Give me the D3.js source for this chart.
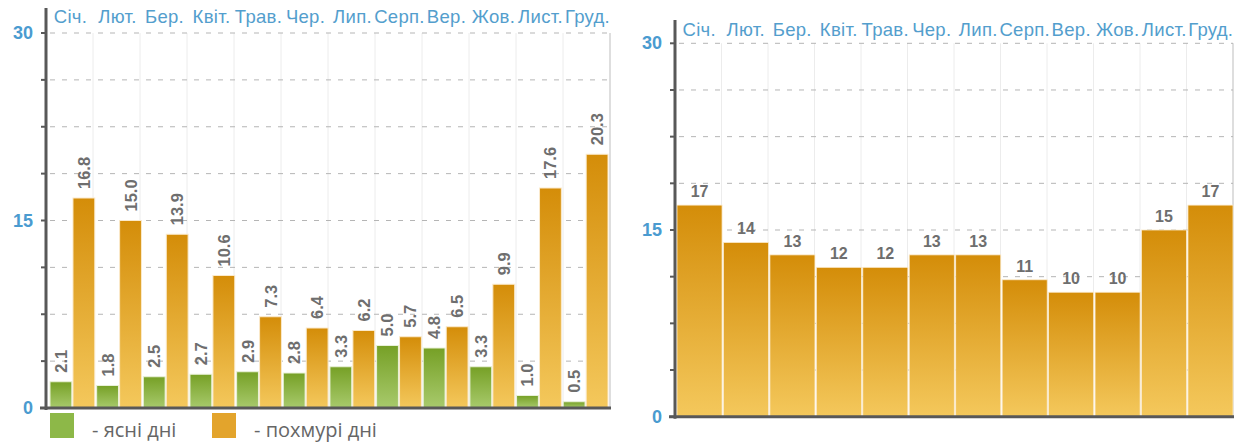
<!DOCTYPE html>
<html>
<head>
<meta charset="utf-8">
<script src="https://cdn.jsdelivr.net/npm/d3@7"></script>
<style>
  html, body { margin: 0; padding: 0; background: #fff; }
  svg { display: block; }
</style>
</head>
<body>
<svg id="chart" width="1247" height="444"></svg>
<script>
// Months (Ukrainian abbreviations)
const months = ["Січ.", "Лют.", "Бер.", "Квіт.", "Трав.", "Чер.", "Лип.", "Серп.", "Вер.", "Жов.", "Лист.", "Груд."];
// Average number of clear and overcast days per month
const clearDays = [2.1, 1.8, 2.5, 2.7, 2.9, 2.8, 3.3, 5.0, 4.8, 3.3, 1.0, 0.5];
const cloudyDays = [16.8, 15.0, 13.9, 10.6, 7.3, 6.4, 6.2, 5.7, 6.5, 9.9, 17.6, 20.3];
// Days with precipitation per month
const rainDays = [17, 14, 13, 12, 12, 13, 13, 11, 10, 10, 15, 17];
// Axis tick values and which of them carry labels
const yTicks = [0, 3.75, 7.5, 11.25, 15, 18.75, 22.5, 26.25, 30];
const yLabels = [0, 15, 30];
const legendItems = ["- ясні дні", "- похмурі дні"];

const svg = d3.select("#chart");
const defs = svg.append("defs");

function vGradient(id, top, bottom) {
  const g = defs.append("linearGradient").attr("id", id)
    .attr("x1", 0).attr("y1", 0).attr("x2", 0).attr("y2", 1);
  g.append("stop").attr("offset", "0%").attr("stop-color", top);
  g.append("stop").attr("offset", "100%").attr("stop-color", bottom);
}
vGradient("gGreen", "#76a026", "#a8ca6c");
vGradient("gOrange", "#d48d09", "#f4c85c");

const blue = "#4a9bd0";
const monthBlue = "#539ecd";
const labelGrey = "#6e6e6e";
const axisGrey = "#585858";

// Shared frame: grid, axes, month captions
function drawFrame(g, cfg) {
  const { x0, x1, y, monthY } = cfg;
  const yTop = y(30), yBot = y(0);
  const step = (x1 - x0) / months.length;

  // faint vertical separators
  g.append("g").selectAll("line").data(d3.range(1, months.length + 1)).join("line")
    .attr("x1", d => x0 + d * step).attr("x2", d => x0 + d * step)
    .attr("y1", yTop).attr("y2", yBot)
    .attr("stroke", "#ececec").attr("stroke-width", 1);

  // right border
  g.append("line").attr("x1", x1).attr("x2", x1).attr("y1", yTop).attr("y2", yBot)
    .attr("stroke", "#cfcfcf").attr("stroke-width", 1.2);

  // dashed horizontal grid
  g.append("g").selectAll("line").data(yTicks.filter(t => t > 0)).join("line")
    .attr("x1", x0 + 4).attr("x2", x1)
    .attr("y1", d => y(d)).attr("y2", d => y(d))
    .attr("stroke", "#b5b5b5").attr("stroke-width", 1)
    .attr("stroke-dasharray", "5,7");

  // month captions along the top
  g.append("g").selectAll("text").data(months).join("text")
    .attr("x", (d, i) => x0 + (i + 0.5) * step + 1)
    .attr("y", monthY)
    .attr("text-anchor", "middle")
    .attr("font-family", "'Liberation Sans Narrow', 'Arial Narrow', 'Liberation Sans', sans-serif")
    .attr("font-size", 18.5)
    .attr("letter-spacing", 0.3)
    .attr("fill", monthBlue)
    .text(d => d);
}

function drawAxes(g, cfg) {
  const { x0, x1, y, axisTop } = cfg;
  // tick marks
  g.append("g").selectAll("line").data(yTicks).join("line")
    .attr("x1", x0 - 5).attr("x2", x0)
    .attr("y1", d => y(d)).attr("y2", d => y(d))
    .attr("stroke", axisGrey).attr("stroke-width", 2);
  // y axis line
  g.append("line").attr("x1", x0).attr("x2", x0).attr("y1", axisTop).attr("y2", y(0) + 2)
    .attr("stroke", axisGrey).attr("stroke-width", 3);
  // baseline
  g.append("line").attr("x1", x0 - 6).attr("x2", x1 + 1).attr("y1", y(0)).attr("y2", y(0))
    .attr("stroke", axisGrey).attr("stroke-width", 3);
  // value labels on the y axis
  g.append("g").selectAll("text").data(yLabels).join("text")
    .attr("x", x0 - 13).attr("y", d => y(d) + 6)
    .attr("text-anchor", "end")
    .attr("font-family", "'Liberation Sans', Arial, sans-serif")
    .attr("font-weight", "bold").attr("font-size", 18)
    .attr("fill", blue)
    .text(d => d);
}

// ---------- Left chart: clear vs overcast days ----------
{
  const cfg = { x0: 46, x1: 610, monthY: 23, axisTop: 8 };
  cfg.y = d3.scaleLinear().domain([0, 30]).range([408, 33]);
  const g = svg.append("g");
  drawFrame(g, cfg);

  const xBand = d3.scaleBand().domain(months).range([50, 608]).paddingInner(0.04);
  const xSub = d3.scaleBand().domain(["clear", "cloudy"]).range([0, xBand.bandwidth()]).paddingInner(0.05);
  const rows = months.map((m, i) => ({ m, clear: clearDays[i], cloudy: cloudyDays[i] }));
  const series = [
    { key: "clear", fill: "url(#gGreen)", stroke: "#e9f1d8" },
    { key: "cloudy", fill: "url(#gOrange)", stroke: "#fbeacb" }
  ];

  series.forEach(s => {
    g.append("g").selectAll("rect").data(rows).join("rect")
      .attr("x", d => xBand(d.m) + xSub(s.key))
      .attr("y", d => cfg.y(d[s.key]))
      .attr("width", xSub.bandwidth())
      .attr("height", d => cfg.y(0) - cfg.y(d[s.key]))
      .attr("fill", s.fill)
      .attr("stroke", s.stroke).attr("stroke-width", 1);

    g.append("g").selectAll("text").data(rows).join("text")
      .attr("transform", d => {
        const cx = xBand(d.m) + xSub(s.key) + xSub.bandwidth() / 2 + 6;
        const cy = cfg.y(d[s.key]) - 9;
        return `translate(${cx},${cy}) rotate(-90)`;
      })
      .attr("text-anchor", "start")
      .attr("font-family", "'Liberation Sans', Arial, sans-serif")
      .attr("font-weight", "bold").attr("font-size", 16.5)
      .attr("fill", labelGrey)
      .text(d => d[s.key].toFixed(1));
  });

  drawAxes(g, cfg);

  // legend
  const legend = g.append("g");
  const legendFills = ["#8db848", "#e3a42c"];
  const legendX = [50, 212];
  legendItems.forEach((t, i) => {
    legend.append("rect").attr("x", legendX[i]).attr("y", 413).attr("width", 24).attr("height", 25)
      .attr("fill", legendFills[i]);
    legend.append("text").attr("x", legendX[i] + 42).attr("y", 437)
      .attr("font-family", "'Open Sans', 'Noto Sans', sans-serif")
      .attr("font-size", 20).attr("fill", "#666")
      .text(t);
  });
}

// ---------- Right chart: precipitation days ----------
{
  const cfg = { x0: 675, x1: 1233, monthY: 36, axisTop: 20 };
  cfg.y = d3.scaleLinear().domain([0, 30]).range([416.7, 43.3]);
  const g = svg.append("g");
  drawFrame(g, cfg);

  const xBand = d3.scaleBand().domain(months).range([677, 1233]).paddingInner(0.03);
  const rows = months.map((m, i) => ({ m, v: rainDays[i] }));

  g.append("g").selectAll("rect").data(rows).join("rect")
    .attr("x", d => xBand(d.m))
    .attr("y", d => cfg.y(d.v))
    .attr("width", xBand.bandwidth())
    .attr("height", d => cfg.y(0) - cfg.y(d.v))
    .attr("fill", "url(#gOrange)")
    .attr("stroke", "#fbeacb").attr("stroke-width", 0.8);

  g.append("g").selectAll("text").data(rows).join("text")
    .attr("x", d => xBand(d.m) + xBand.bandwidth() / 2)
    .attr("y", d => cfg.y(d.v) - 8)
    .attr("text-anchor", "middle")
    .attr("font-family", "'Liberation Sans', Arial, sans-serif")
    .attr("font-weight", "bold").attr("font-size", 16)
    .attr("fill", labelGrey)
    .text(d => d.v);

  drawAxes(g, cfg);
}
</script>
</body>
</html>
